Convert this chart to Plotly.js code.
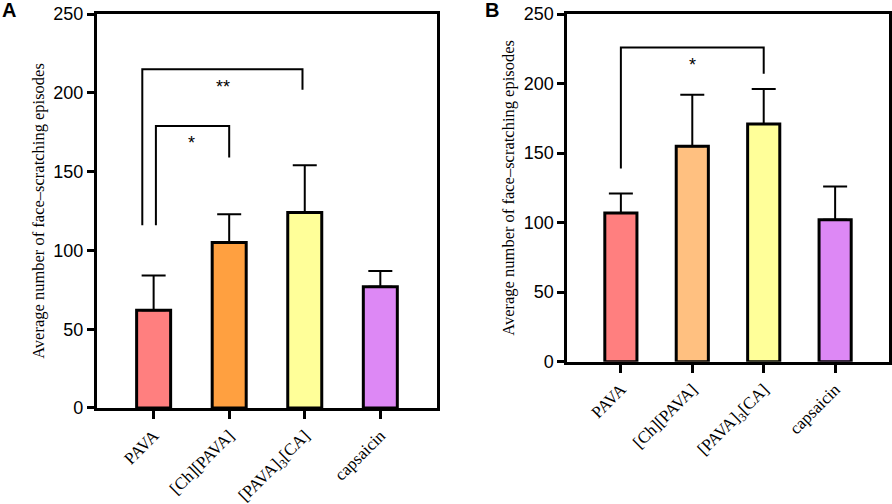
<!DOCTYPE html>
<html>
<head>
<meta charset="utf-8">
<script src="https://cdn.plot.ly/plotly-3.0.1.min.js"></script>
<style>html,body{margin:0;padding:0;background:#fff}#chart{width:892px;height:504px}</style>
</head>
<body>
<div id="chart"></div>
<script>
// ---- data ----
const categories = ["PAVA", "[Ch][PAVA]", "[PAVA]<sub>3</sub>[CA]", "capsaicin"];
const meanA = [62, 105, 124, 77];
const sdA = [22, 18, 30, 10];
const meanB = [107, 155, 171, 102];
const sdB = [14, 37, 25, 24];
const colorsA = ["#FF7F7F", "#FFA040", "#FFFF99", "#DD88F5"];
const colorsB = ["#FF7F7F", "#FFC080", "#FFFF99", "#DD88F5"];
// significance brackets: [leftX, rightX, topY, leftBottomY, rightBottomY, label, labelX, labelY]
const sigA = [
  [0.03, 1.0, 179, 116, 159, "*", 0.5, 168],
  [-0.15, 1.97, 215, 116, 202, "**", 0.92, 204]
];
const sigB = [
  [0.0, 2.0, 226, 139, 207, "*", 1.0, 213]
];
const yTitle = "Average number of face\u2013scratching episodes";

const traces = [];
const annotations = [];
function addPanel(mean, sd, colors, sig, xa, ya) {
  const xs = categories.map((c, i) => i);
  traces.push({
    type: "bar", x: xs, y: mean, xaxis: xa, yaxis: ya, width: 0.45,
    marker: {color: colors, line: {color: "#000", width: 3}},
    error_y: {type: "data", symmetric: false, array: sd, arrayminus: sd.map(() => 0),
              color: "#000", thickness: 2, width: 12},
    hoverinfo: "skip", showlegend: false
  });
  sig.forEach(s => {
    traces.push({
      type: "scatter", mode: "lines", xaxis: xa, yaxis: ya,
      x: [s[0], s[0], s[1], s[1]], y: [s[3], s[2], s[2], s[4]],
      line: {color: "#000", width: 2}, showlegend: false, hoverinfo: "skip", cliponaxis: false
    });
    annotations.push({xref: xa, yref: ya, x: s[6], y: s[7], text: s[5], showarrow: false,
      font: {family: "Liberation Sans, Arial", size: 18, color: "#000"}});
  });
}
addPanel(meanA, sdA, colorsA, sigA, "x", "y");
addPanel(meanB, sdB, colorsB, sigB, "x2", "y2");

annotations.push({xref: "paper", yref: "paper", x: 0.0, y: 1.005, xanchor: "left", yanchor: "top",
  text: "<b>A</b>", showarrow: false, font: {family: "Liberation Sans, Arial", size: 20, color: "#000"}});
annotations.push({xref: "paper", yref: "paper", x: 0.541, y: 1.005, xanchor: "left", yanchor: "top",
  text: "<b>B</b>", showarrow: false, font: {family: "Liberation Sans, Arial", size: 20, color: "#000"}});

function xAxis(domain, anchor) {
  return {
    domain: domain, anchor: anchor, range: [-0.75, 3.75],
    tickmode: "array", tickvals: [0, 1, 2, 3], ticktext: categories,
    tickangle: -45, ticks: "outside", ticklen: 8, tickwidth: 3, tickcolor: "#000",
    showline: true, linewidth: 3, linecolor: "#000", mirror: true,
    showgrid: false, zeroline: false, fixedrange: true,
    tickfont: {family: "Liberation Serif, Times New Roman", size: 17, color: "#000"}
  };
}
function yAxis(domain, anchor) {
  return {
    domain: domain, anchor: anchor, range: [0, 250], tickvals: [0, 50, 100, 150, 200, 250],
    ticks: "outside", ticklen: 7, tickwidth: 3, tickcolor: "#000",
    showline: true, linewidth: 3, linecolor: "#000", mirror: true,
    showgrid: false, zeroline: false, fixedrange: true,
    tickfont: {family: "Liberation Sans, Arial", size: 18, color: "#000"},
    title: {text: yTitle, standoff: 5, font: {family: "Liberation Serif, Times New Roman", size: 16.5, color: "#000"}}
  };
}

const layout = {
  width: 892, height: 504,
  margin: {l: 0, r: 0, t: 0, b: 0},
  paper_bgcolor: "#fff", plot_bgcolor: "#fff",
  xaxis: xAxis([0.1087, 0.4899], "y"),
  yaxis: yAxis([0.1905, 0.9722], "x"),
  xaxis2: xAxis([0.636, 0.9963], "y2"),
  yaxis2: yAxis([0.2823, 0.9722], "x2"),
  annotations: annotations,
  bargap: 0.5
};
Plotly.newPlot("chart", traces, layout, {displayModeBar: false, staticPlot: true});
</script>
</body>
</html>
